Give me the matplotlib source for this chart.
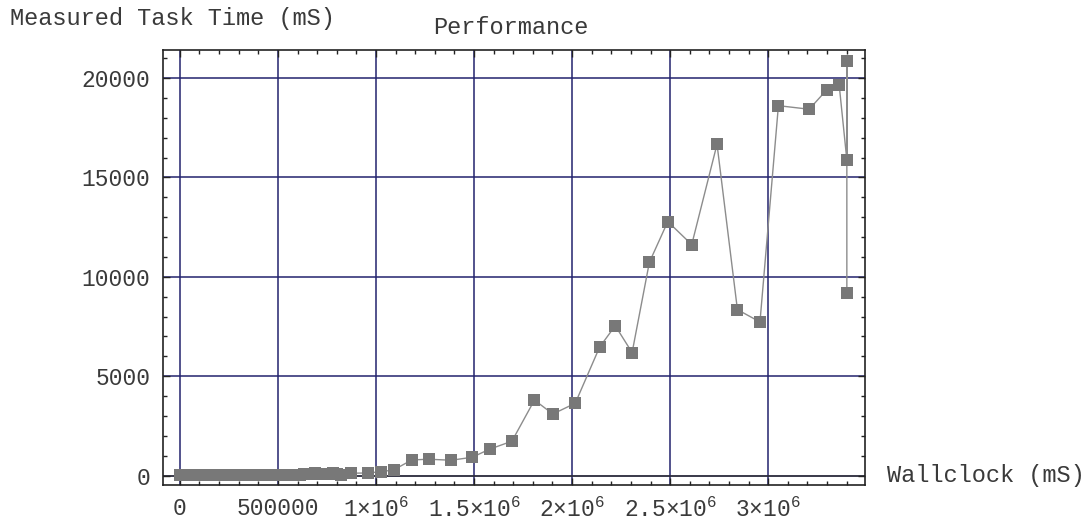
"""
Performance plot: measured task time against wallclock time.
"""

import matplotlib
matplotlib.use("Agg")
import matplotlib.pyplot as plt
from matplotlib.ticker import FixedLocator, FixedFormatter, MultipleLocator

# ── DATA ──────────────────────────────────────────────────────────────────────
wallclock = [
    0, 15000, 30000, 45000, 60000, 80000, 100000, 120000, 140000, 160000,
    185000, 210000, 235000, 260000, 285000, 310000, 335000, 360000, 385000,
    410000, 435000, 460000, 485000, 510000, 535000, 560000, 585000, 610000,
    635000, 660000, 690000, 720000, 750000, 780000, 800000, 824000, 875000,
    959000, 1027000, 1090000, 1183000, 1268000, 1384000, 1491000, 1579000,
    1693000, 1808000, 1902000, 2016000, 2140000, 2220000, 2306000, 2394000,
    2488000, 2610000, 2739000, 2843000, 2958000, 3052000, 3209000, 3298000,
    3362000, 3401000, 3401000, 3401000,
]
task_time = [
    10, 12, 15, 14, 18, 20, 22, 20, 25, 24,
    28, 26, 30, 32, 30, 35, 33, 38, 40,
    36, 42, 45, 40, 48, 50, 46, 55, 52,
    60, 90, 110, 105, 95, 120, 80, 35, 120,
    135, 200, 290, 790, 825, 775, 925, 1330,
    1730, 3800, 3100, 3640, 6460, 7540, 6190, 10730,
    12780, 11620, 16670, 8350, 7730, 18610, 18430, 19400,
    19640, 15880, 20880, 9180,
]

x_ticks = [0, 500000, 1000000, 1500000, 2000000, 2500000, 3000000]
x_tick_labels = ["0", "500000", r"$1{\times}10^{6}$", r"$1.5{\times}10^{6}$",
                 r"$2{\times}10^{6}$", r"$2.5{\times}10^{6}$", r"$3{\times}10^{6}$"]
y_ticks = [0, 5000, 10000, 15000, 20000]
y_tick_labels = ["0", "5000", "10000", "15000", "20000"]

# ── STYLE ─────────────────────────────────────────────────────────────────────
plt.rcParams["font.family"] = ["Liberation Mono", "DejaVu Sans"]
plt.rcParams["mathtext.fontset"] = "custom"
plt.rcParams["mathtext.rm"] = "Liberation Mono"
plt.rcParams["mathtext.it"] = "Liberation Mono"
plt.rcParams["mathtext.default"] = "regular"

GRID = "#23236e"
MARK = "#787878"
LINE = "#8c8c8c"
TEXT = "#3a3a3a"
FS = 16.5


def main():
    fig = plt.figure(figsize=(10.86, 5.23), dpi=100)
    ax = fig.add_axes([0.150, 0.0727, 0.6464, 0.8317])

    # grid + axis at zero
    for xv in x_ticks:
        ax.axvline(xv, color=GRID, linewidth=1.1, zorder=1)
    for yv in y_ticks[1:]:
        ax.axhline(yv, color=GRID, linewidth=1.1, zorder=1)
    ax.axhline(0, color="#2a2a3a", linewidth=1.3, zorder=1)

    ax.plot(wallclock, task_time, color=LINE, linewidth=1.0, zorder=2)
    ax.plot(wallclock, task_time, linestyle="none", marker="s",
            markersize=8.5, color=MARK, markeredgewidth=0, zorder=3)

    ax.set_xlim(-86600, 3493000)
    ax.set_ylim(-470, 21410)

    ax.xaxis.set_major_locator(FixedLocator(x_ticks))
    ax.xaxis.set_major_formatter(FixedFormatter(x_tick_labels))
    ax.xaxis.set_minor_locator(MultipleLocator(100000))
    ax.yaxis.set_major_locator(FixedLocator(y_ticks))
    ax.yaxis.set_major_formatter(FixedFormatter(y_tick_labels))
    ax.yaxis.set_minor_locator(MultipleLocator(1000))

    ax.tick_params(which="both", direction="in", top=True, right=True,
                   color="#222222", labelsize=FS, labelcolor=TEXT)
    ax.tick_params(which="major", length=5, width=1.0)
    ax.tick_params(which="minor", length=3, width=1.0)
    ax.tick_params(axis="x", pad=9)
    ax.tick_params(axis="y", pad=9)

    for sp in ax.spines.values():
        sp.set_color("#222222")
        sp.set_linewidth(1.2)

    # labels, Mathematica style placement
    fig.text(10 / 1086, 1 - 18 / 523, "Measured Task Time (mS)",
             fontsize=FS + 0.5, color=TEXT, ha="left", va="center")
    fig.text(511 / 1086, 1 - 28 / 523, "Performance",
             fontsize=FS + 0.5, color=TEXT, ha="center", va="center")
    ax.annotate("Wallclock (mS)", xy=(1, 0), xycoords=("axes fraction", "data"),
                xytext=(22, 0), textcoords="offset pixels",
                fontsize=FS + 0.5, color=TEXT, ha="left", va="center")

    fig.savefig("out.png", dpi=100)


if __name__ == "__main__":
    main()
